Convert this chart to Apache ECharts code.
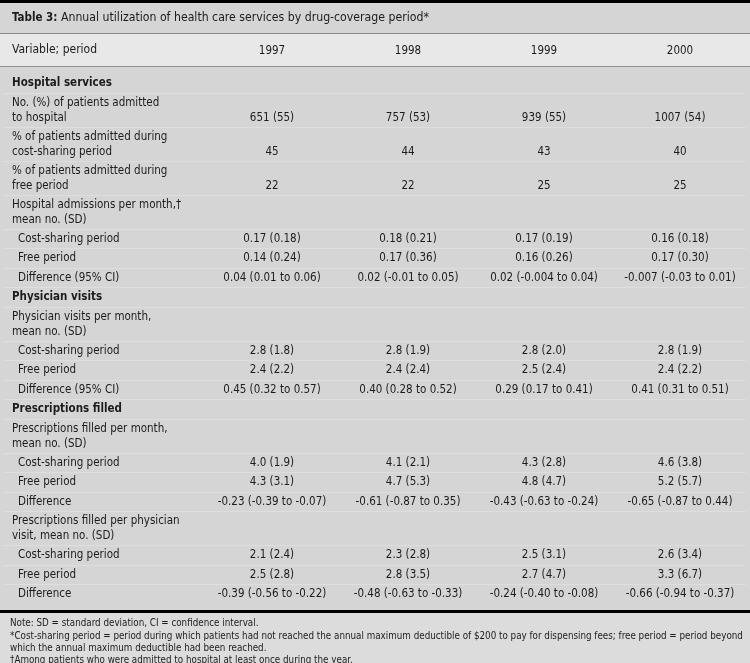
<!DOCTYPE html>
<html>
<head>
<meta charset="utf-8">
<script src="https://cdn.jsdelivr.net/npm/echarts@6/dist/echarts.min.js"></script>
<style>
html,body{margin:0;padding:0;background:#d5d5d5;}
#chart{width:750px;height:663px;}
</style>
</head>
<body>
<div id="chart"></div>
<script>
// ---- data ----
const titleBold = 'Table 3:';
const titleText = ' Annual utilization of health care services by drug-coverage period*';
const headerLabel = 'Variable; period';
const years = ['1997', '1998', '1999', '2000'];

const rowLabels = [
  'Hospital services',
  'No. (%) of patients admitted\nto hospital',
  '% of patients admitted during\ncost-sharing period',
  '% of patients admitted during\nfree period',
  'Hospital admissions per month,\u2020\nmean no. (SD)',
  'Cost-sharing period',
  'Free period',
  'Difference (95% CI)',
  'Physician visits',
  'Physician visits per month,\nmean no. (SD)',
  'Cost-sharing period',
  'Free period',
  'Difference (95% CI)',
  'Prescriptions filled',
  'Prescriptions filled per month,\nmean no. (SD)',
  'Cost-sharing period',
  'Free period',
  'Difference',
  'Prescriptions filled per physician\nvisit, mean no. (SD)',
  'Cost-sharing period',
  'Free period',
  'Difference'
];
// s = section heading, m = main variable, i = indented sub-item
const rowKinds = ['s','m','m','m','m','i','i','i','s','m','i','i','i','s','m','i','i','i','m','i','i','i'];

const v1997 = ['', '651 (55)', '45', '22', '', '0.17 (0.18)', '0.14 (0.24)', '0.04 (0.01 to 0.06)', '', '', '2.8 (1.8)', '2.4 (2.2)', '0.45 (0.32 to 0.57)', '', '', '4.0 (1.9)', '4.3 (3.1)', '-0.23 (-0.39 to -0.07)', '', '2.1 (2.4)', '2.5 (2.8)', '-0.39 (-0.56 to -0.22)'];
const v1998 = ['', '757 (53)', '44', '22', '', '0.18 (0.21)', '0.17 (0.36)', '0.02 (-0.01 to 0.05)', '', '', '2.8 (1.9)', '2.4 (2.4)', '0.40 (0.28 to 0.52)', '', '', '4.1 (2.1)', '4.7 (5.3)', '-0.61 (-0.87 to 0.35)', '', '2.3 (2.8)', '2.8 (3.5)', '-0.48 (-0.63 to -0.33)'];
const v1999 = ['', '939 (55)', '43', '25', '', '0.17 (0.19)', '0.16 (0.26)', '0.02 (-0.004 to 0.04)', '', '', '2.8 (2.0)', '2.5 (2.4)', '0.29 (0.17 to 0.41)', '', '', '4.3 (2.8)', '4.8 (4.7)', '-0.43 (-0.63 to -0.24)', '', '2.5 (3.1)', '2.7 (4.7)', '-0.24 (-0.40 to -0.08)'];
const v2000 = ['', '1007 (54)', '40', '25', '', '0.16 (0.18)', '0.17 (0.30)', '-0.007 (-0.03 to 0.01)', '', '', '2.8 (1.9)', '2.4 (2.2)', '0.41 (0.31 to 0.51)', '', '', '4.6 (3.8)', '5.2 (5.7)', '-0.65 (-0.87 to 0.44)', '', '2.6 (3.4)', '3.3 (6.7)', '-0.66 (-0.94 to -0.37)'];
const yearValues = [v1997, v1998, v1999, v2000];

const notes = [
  'Note: SD = standard deviation, CI = confidence interval.',
  '*Cost-sharing period = period during which patients had not reached the annual maximum deductible of $200 to pay for dispensing fees; free period = period beyond',
  'which the annual maximum deductible had been reached.',
  '\u2020Among patients who were admitted to hospital at least once during the year.'
];

// ---- layout / style ----
const FONT_FAMILY = '"DejaVu Sans Condensed", "DejaVu Sans", sans-serif';
const NOTE_FAMILY = '"Liberation Sans Narrow", "DejaVu Sans Condensed", "Liberation Sans", sans-serif';
const FS = 11.5;
const TXT = '#1c1c1c';
const SINGLE_H = 19.5, LINE_STEP = 15, FIRST_OFF = 10.5;

const rowHeights = rowLabels.map(l => SINGLE_H + (l.split('\n').length - 1) * (LINE_STEP - 0.5));
const rowTops = [];
let acc = 0;
rowHeights.forEach(h => { rowTops.push(acc); acc += h; });
const totalH = acc;

const GRID_TOP = 73, GRID_LEFT = 204, GRID_W = 544;

const cellData = [];
rowLabels.forEach((lab, r) => {
  cellData.push({ value: [-1, r], text: lab });
  yearValues.forEach((arr, c) => {
    if (arr[r] !== '') cellData.push({ value: [c, r], text: arr[r] });
  });
});

function renderCell(params, api) {
  const item = cellData[params.dataIndex];
  const c = item.value[0], r = item.value[1];
  const lines = item.text.split('\n');
  const nLines = rowLabels[r].split('\n').length;
  if (c < 0) {
    const kind = rowKinds[r];
    const top = Math.round(api.coord([0, rowTops[r]])[1]) + 0.5;
    const x = params.coordSys.x - 192 + (kind === 'i' ? 6 : 0);
    const children = lines.map((ln, k) => ({
      type: 'text',
      style: {
        text: ln, x: x, y: api.coord([0, rowTops[r] + FIRST_OFF + k * LINE_STEP])[1],
        textAlign: 'left', textVerticalAlign: 'middle',
        font: (kind === 's' ? 'bold ' : '') + FS + 'px ' + FONT_FAMILY, fill: TXT
      }
    }));
    if (r > 0) {
      children.push({
        type: 'line',
        shape: { x1: 4, y1: top, x2: 746, y2: top },
        style: { stroke: 'rgba(255,255,255,0.22)', lineWidth: 1 }
      });
    }
    return { type: 'group', children: children };
  }
  const p = api.coord([c, rowTops[r] + FIRST_OFF + (nLines - 1) * LINE_STEP]);
  return {
    type: 'text',
    style: {
      text: item.text, x: p[0], y: p[1],
      textAlign: 'center', textVerticalAlign: 'middle',
      font: FS + 'px ' + FONT_FAMILY, fill: TXT
    }
  };
}

const chart = echarts.init(document.getElementById('chart'), null, { renderer: 'canvas' });

const graphics = [
  { type: 'rect', z: -10, shape: { x: 0, y: 0, width: 750, height: 663 }, style: { fill: '#d5d5d5' } },
  { type: 'rect', z: -9, shape: { x: 0, y: 34, width: 750, height: 32 }, style: { fill: '#e8e8e8' } },
  { type: 'rect', z: -9, shape: { x: 0, y: 613, width: 750, height: 50 }, style: { fill: '#dcdcdc' } },
  { type: 'rect', z: 5, shape: { x: 0, y: 0, width: 750, height: 3 }, style: { fill: '#000' } },
  { type: 'rect', z: 5, shape: { x: 0, y: 33, width: 750, height: 1 }, style: { fill: '#8a8a8a' } },
  { type: 'rect', z: 5, shape: { x: 0, y: 66, width: 750, height: 1 }, style: { fill: '#8f8f8f' } },
  { type: 'rect', z: 5, shape: { x: 0, y: 610, width: 750, height: 3 }, style: { fill: '#000' } },
  { type: 'text', z: 6, style: { text: headerLabel, x: 12, y: 50, textVerticalAlign: 'middle', font: '12px ' + FONT_FAMILY, fill: TXT } }
];
const noteY = [623, 636.5, 648.5, 660];
notes.forEach((n, i) => {
  graphics.push({ type: 'text', z: 6, style: { text: n, x: 10, y: noteY[i], textVerticalAlign: 'middle', font: '9.75px ' + NOTE_FAMILY, fill: TXT } });
});

chart.setOption({
  animation: false,
  backgroundColor: '#d5d5d5',
  title: {
    left: 7, top: 7,
    text: '{b|' + titleBold + '}{n|' + titleText + '}',
    textStyle: {
      fontWeight: 'normal',
      rich: {
        b: { fontFamily: FONT_FAMILY, fontSize: FS, fontWeight: 'bold', color: TXT },
        n: { fontFamily: FONT_FAMILY, fontSize: 12.2, fontWeight: 'normal', color: TXT }
      }
    }
  },
  graphic: graphics,
  grid: { left: GRID_LEFT, top: GRID_TOP, width: GRID_W, height: totalH },
  xAxis: {
    type: 'category', data: years, position: 'top',
    axisLine: { show: false }, axisTick: { show: false }, splitLine: { show: false },
    axisLabel: { margin: 16, fontFamily: FONT_FAMILY, fontSize: FS, color: TXT }
  },
  yAxis: { type: 'value', min: 0, max: totalH, inverse: true, show: false },
  series: [{
    type: 'custom',
    coordinateSystem: 'cartesian2d',
    clip: false,
    data: cellData.map(d => d.value),
    renderItem: renderCell
  }]
});
</script>
</body>
</html>
